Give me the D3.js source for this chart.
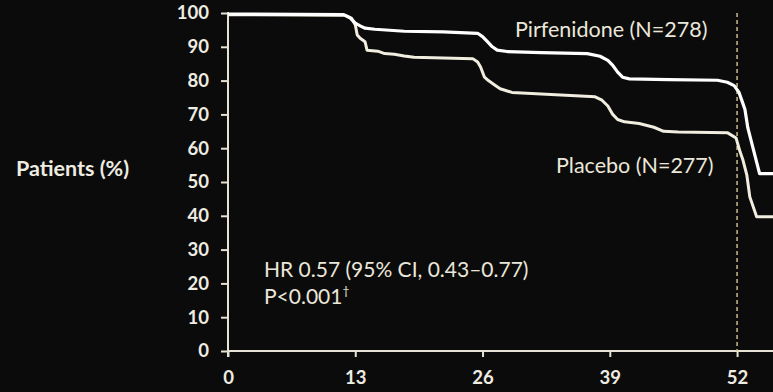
<!DOCTYPE html>
<html>
<head>
<meta charset="utf-8">
<script src="https://cdn.jsdelivr.net/npm/d3@7/dist/d3.min.js"></script>
<style>
  html, body { margin: 0; padding: 0; background: #0b0b0b; }
  svg { display: block; }
  text { font-family: "Lato", "Open Sans", sans-serif; }
</style>
</head>
<body>
<svg id="chart" width="773" height="392"></svg>
<script>
// Kaplan–Meier style curves: week vs. percentage of patients
const weekTicks = [0, 13, 26, 39, 52];
const pctTicks = [0, 10, 20, 30, 40, 50, 60, 70, 80, 90, 100];

const pirfWeeks = [0, 11.8, 12.5, 13.0, 13.5, 14.0, 15, 18, 22, 25.5, 26, 26.5, 27, 27.5, 28.5, 32, 36.7, 38, 38.8, 39.3, 39.8, 40.3, 41, 45, 50, 51, 51.7, 52.2, 52.5, 52.8, 53.1, 54.3, 56];
const pirfPct   = [99.7, 99.5, 98.5, 97, 96.2, 95.5, 95.2, 94.6, 94.4, 94, 93, 91.5, 90, 89, 88.6, 88.3, 88, 87.2, 86, 84.5, 82.5, 81, 80.5, 80.3, 80.1, 79.5, 78.5, 76.5, 74, 71.5, 66, 52.5, 52.5];

const placWeeks = [0, 12.0, 12.6, 13.0, 13.2, 13.5, 14.0, 14.2, 15.3, 16.0, 17, 18, 19, 25, 25.5, 25.8, 26.2, 26.6, 27.2, 27.8, 29, 32, 35, 37.5, 38.2, 38.8, 39.3, 39.8, 40.5, 42, 43.5, 44.5, 46, 51, 51.9, 52.3, 52.6, 53, 53.3, 54, 56];
const placPct   = [99.5, 99.3, 98.5, 96.5, 93.5, 92.5, 91.5, 89, 88.7, 88, 87.8, 87.3, 86.9, 86.5, 85.5, 84, 81, 80, 78.8, 77.6, 76.5, 76, 75.6, 75.2, 74.2, 72.5, 70, 68.5, 67.8, 67.3, 66.2, 65, 64.8, 64.6, 63, 59, 56.5, 52, 45.6, 39.7, 39.7];

const seriesNames = ["Pirfenidone (N=278)", "Placebo (N=277)"];
const statLines = ["HR 0.57 (95% CI, 0.43\u20130.77)", "P<0.001"];
const yTitle = "Patients (%)";
const landmarkWeek = 52;

const svg = d3.select("#chart");
const x = d3.scaleLinear().domain([0, 55.67]).range([228, 773]);
const y = d3.scaleLinear().domain([0, 100]).range([351, 13]);

const axisColor = "#e6e2d4";
const textColor = "#efece2";
const noteColor = "#ebe7da";

// y axis
const yAxis = svg.append("g")
  .attr("transform", `translate(${x(0)},0)`)
  .call(d3.axisLeft(y).tickValues(pctTicks).tickSize(7).tickPadding(12));
// x axis
const xAxis = svg.append("g")
  .attr("transform", `translate(0,${y(0)})`)
  .call(d3.axisBottom(x).tickValues(weekTicks).tickSize(6).tickPadding(10));

[yAxis, xAxis].forEach(g => {
  g.select(".domain").remove();
  g.selectAll(".tick line").attr("stroke", axisColor).attr("stroke-width", 2);
  g.selectAll(".tick text")
    .attr("fill", textColor)
    .attr("font-family", "Lato, sans-serif")
    .attr("font-weight", "bold")
    .attr("font-size", 18.5);
});
xAxis.selectAll(".tick text").attr("dy", "0.9em");

// axis lines
svg.append("line")
  .attr("x1", x(0)).attr("x2", x(0)).attr("y1", y(100) - 1).attr("y2", y(0) + 6)
  .attr("stroke", axisColor).attr("stroke-width", 2);
svg.append("line")
  .attr("x1", x(0)).attr("x2", 773).attr("y1", y(0)).attr("y2", y(0))
  .attr("stroke", axisColor).attr("stroke-width", 2);

// week 52 reference line
svg.append("line")
  .attr("x1", x(landmarkWeek)).attr("x2", x(landmarkWeek))
  .attr("y1", y(100)).attr("y2", y(0))
  .attr("stroke", "#c9bb8e").attr("stroke-width", 1.5)
  .attr("stroke-dasharray", "4,3");

// survival curves
const line = d3.line().x(d => x(d[0])).y(d => y(d[1])).curve(d3.curveLinear);
svg.append("path")
  .datum(placWeeks.map((w, i) => [w, placPct[i]]))
  .attr("d", line)
  .attr("fill", "none").attr("stroke", "#f1eddf").attr("stroke-width", 3)
  .attr("stroke-linejoin", "round");
svg.append("path")
  .datum(pirfWeeks.map((w, i) => [w, pirfPct[i]]))
  .attr("d", line)
  .attr("fill", "none").attr("stroke", "#ffffff").attr("stroke-width", 3.2)
  .attr("stroke-linejoin", "round");

// labels
svg.append("text").attr("x", 515).attr("y", 37)
  .attr("fill", noteColor).attr("font-size", 21.5).text(seriesNames[0]);
svg.append("text").attr("x", 556).attr("y", 173)
  .attr("fill", noteColor).attr("font-size", 21.5).text(seriesNames[1]);

svg.append("text").attr("x", 264).attr("y", 277)
  .attr("fill", noteColor).attr("font-size", 21).text(statLines[0]);
const p = svg.append("text").attr("x", 264).attr("y", 304)
  .attr("fill", noteColor).attr("font-size", 21).text(statLines[1]);
p.append("tspan").attr("font-size", 12).attr("dy", -9).text("\u2020");

svg.append("text").attr("x", 16).attr("y", 176)
  .attr("fill", textColor).attr("font-weight", "bold").attr("font-size", 21.5)
  .text(yTitle);
</script>
</body>
</html>
